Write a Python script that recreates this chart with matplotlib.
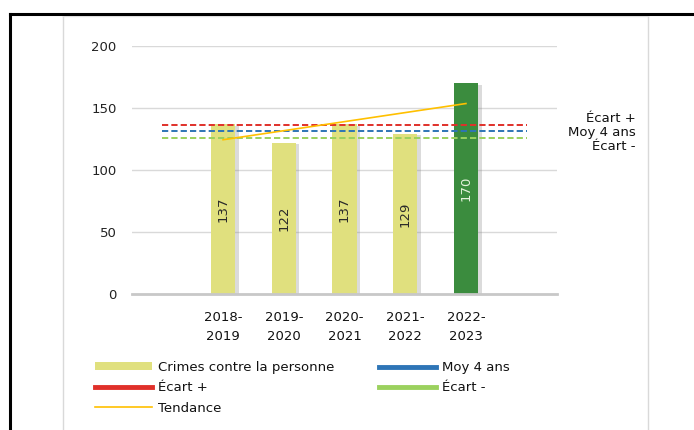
import matplotlib
matplotlib.use("Agg")
import matplotlib.pyplot as plt
import matplotlib.patheffects as pe
from matplotlib.lines import Line2D
from matplotlib.patches import Patch
import numpy as np

plt.rcParams['font.family'] = ['DejaVu Sans']

# ---- data ----
periods = ["2018-\n2019", "2019-\n2020", "2020-\n2021", "2021-\n2022", "2022-\n2023"]
crimes = [137, 122, 137, 129, 170]
tendance = [124.4, 131.7, 139.0, 146.3, 153.6]
moy_4_ans = 131.25
ecart_plus = 136.5
ecart_minus = 126.0
yticks = [0, 50, 100, 150, 200]

FS = 9.5
W, H = 694, 430
fig = plt.figure(figsize=(W / 100, H / 100), dpi=100)
fig.patch.set_facecolor("white")

ax = fig.add_axes([132 / W, 1 - 294 / H, (557 - 132) / W, (294 - 46) / H])

# category slots: empty slot on each side
n = len(periods)
xpos = np.arange(1, n + 1)
ax.set_xlim(-0.5, n + 1.5)
ax.set_ylim(0, 200)

yellow = "#E0E07E"
green = "#3B8C3E"
colors = [yellow] * (n - 1) + [green]
bars = ax.bar(xpos, crimes, width=0.4, color=colors, zorder=2)
for b in bars:
    b.set_path_effects([pe.SimplePatchShadow(offset=(2.5, -1), alpha=0.3, shadow_rgbFace="#888888"),
                        pe.Normal()])

# reference lines across all slots
ax.hlines(ecart_plus, 0, n + 1, colors="#E0302A", linestyles=(0, (3.2, 1.6)), lw=1.4, zorder=3)
ax.hlines(moy_4_ans, 0, n + 1, colors="#2E75B6", linestyles=(0, (3.2, 1.6)), lw=1.4, zorder=3)
ax.hlines(ecart_minus, 0, n + 1, colors="#9BD15E", linestyles=(0, (3.2, 1.6)), lw=1.4, zorder=3)
ax.plot(xpos, tendance, color="#FFC000", lw=1.2, zorder=4)

# data labels
for x, v, c in zip(xpos, crimes, colors):
    tc = "#E4F2DC" if c == green else "#2A2A2A"
    ax.text(x, v / 2, str(v), rotation=90, ha="center", va="center",
            fontsize=FS, color=tc, zorder=5)

# axes styling
ax.set_yticks(yticks)
ax.set_yticklabels([str(t) for t in yticks], fontsize=FS, color="#222222")
ax.set_xticks(xpos)
ax.set_xticklabels(periods, fontsize=FS, color="#111111", linespacing=1.6)
ax.tick_params(axis="both", length=0)
ax.tick_params(axis="y", pad=11)
ax.tick_params(axis="x", pad=12)
ax.yaxis.grid(True, color="#D9D9D9", lw=1.0, zorder=0)
ax.set_axisbelow(True)
for s in ["top", "right", "left"]:
    ax.spines[s].set_visible(False)
ax.spines["bottom"].set_color("#C8C8C8")
ax.spines["bottom"].set_linewidth(2.0)
ax.patch.set_alpha(0)

# right-side annotations
for txt, yy in [("Écart +", 119), ("Moy 4 ans", 132.5), ("Écart -", 146)]:
    fig.text(636 / W, 1 - yy / H, txt, ha="right", va="center", fontsize=FS, color="#111111")

# legend
handles = [
    Patch(facecolor=yellow, edgecolor="none"),
    Line2D([], [], color="#E0302A", lw=3.5),
    Line2D([], [], color="#FFC000", lw=1.2),
    Line2D([], [], color="#2E75B6", lw=3.5),
    Line2D([], [], color="#9BD15E", lw=3.5),
]
labels = ["Crimes contre la personne", "Écart +", "Tendance", "Moy 4 ans", "Écart -"]
leg = fig.legend(handles, labels, ncol=2, loc="upper left",
                 bbox_to_anchor=(95 / W, 1 - 361 / H), frameon=False,
                 fontsize=FS, handlelength=4.3, handleheight=0.55,
                 columnspacing=3.4, labelspacing=0.55, handletextpad=0.45,
                 borderaxespad=0, borderpad=0)
for t in leg.get_texts():
    t.set_color("#111111")

# chart area frame (light grey)
fig.add_artist(Line2D([63 / W, 63 / W], [0, 1 - 16 / H], color="#D9D9D9", lw=1.0))
fig.add_artist(Line2D([648 / W, 648 / W], [0, 1 - 16 / H], color="#D9D9D9", lw=1.0))
fig.add_artist(Line2D([63 / W, 648 / W], [1 - 16 / H, 1 - 16 / H], color="#E6E6E6", lw=1.0))

# outer black frame
fig.add_artist(Line2D([10 / W, 10 / W], [0, 1 - 14 / H], color="black", lw=2.2))
fig.add_artist(Line2D([10 / W, 1.0], [1 - 14 / H, 1 - 14 / H], color="black", lw=2.2))

fig.savefig("out.png", dpi=100, facecolor="white")
